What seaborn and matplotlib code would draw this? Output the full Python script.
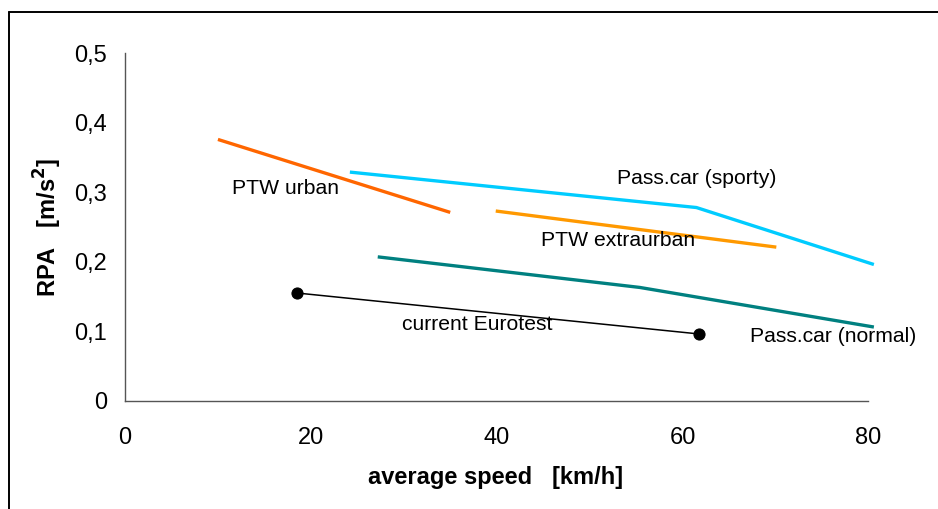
import pandas as pd
import numpy as np
import matplotlib.pyplot as plt
import seaborn as sns
from matplotlib.lines import Line2D

# values
ptw_urban_x = [10.0, 35.0]
ptw_urban_y = [0.376, 0.271]
car_sporty_x = [24.2, 61.5, 80.6]
car_sporty_y = [0.329, 0.278, 0.196]
ptw_extra_x = [39.9, 70.1]
ptw_extra_y = [0.273, 0.221]
car_normal_x = [27.2, 55.4, 80.6]
car_normal_y = [0.207, 0.163, 0.106]
eurotest_x = [18.5, 61.8]
eurotest_y = [0.155, 0.096]

x_ticks = [0, 20, 40, 60, 80]
y_ticks = [0, 0.1, 0.2, 0.3, 0.4, 0.5]
y_ticklabels = ["0", "0,1", "0,2", "0,3", "0,4", "0,5"]

series = {
    "PTW urban": (ptw_urban_x, ptw_urban_y),
    "Pass.car (sporty)": (car_sporty_x, car_sporty_y),
    "PTW extraurban": (ptw_extra_x, ptw_extra_y),
    "Pass.car (normal)": (car_normal_x, car_normal_y),
}
colors = {
    "PTW urban": "#FF6600",
    "Pass.car (sporty)": "#00CCFF",
    "PTW extraurban": "#FF9900",
    "Pass.car (normal)": "#008080",
}

rows = []
for name, (xs, ys) in series.items():
    for x, y in zip(xs, ys):
        rows.append({"series": name, "speed": x, "rpa": y})
df = pd.DataFrame(rows)
df_euro = pd.DataFrame({"speed": eurotest_x, "rpa": eurotest_y})

sns.set_theme(style="white")
plt.rcParams['font.family'] = ['Liberation Sans', 'DejaVu Sans']
plt.rcParams['text.color'] = 'black'
plt.rcParams['axes.labelcolor'] = 'black'

fig = plt.figure(figsize=(9.38, 5.09), dpi=100)
ax = fig.add_axes([0.1333, 0.2128, 0.7924, 0.6825])

sns.lineplot(data=df, x="speed", y="rpa", hue="series", palette=colors,
             sort=False, estimator=None, linewidth=2.4, legend=False, ax=ax)
sns.lineplot(data=df_euro, x="speed", y="rpa", color="black", sort=False,
             estimator=None, linewidth=1.1, marker="o", markersize=8,
             markeredgecolor="black", legend=False, ax=ax)
for ln in ax.lines:
    ln.set_clip_on(False)
    ln.set_solid_capstyle("butt")

ax.set_xlim(0, 80)
ax.set_ylim(0, 0.5)
ax.set_xticks(x_ticks)
ax.set_xticklabels([str(t) for t in x_ticks])
ax.set_yticks(y_ticks)
ax.set_yticklabels(y_ticklabels)
ax.tick_params(axis="both", direction="out", length=5.8, width=1, color="#555555",
               labelsize=17, labelcolor="black", pad=7)
ax.tick_params(axis="x", pad=13.5)
for side in ["top", "right"]:
    ax.spines[side].set_visible(False)
for side in ["left", "bottom"]:
    ax.spines[side].set_color("#555555")
    ax.spines[side].set_linewidth(1)

ax.set_xlabel("average speed   [km/h]", fontsize=17, fontweight="bold", va="center", color="black")
ax.set_ylabel("RPA   [m/s$^\\mathbf{2}$]", fontsize=17, fontweight="bold", va="center", color="black")
ax.xaxis.set_label_coords(0.499, -0.2225)
ax.yaxis.set_label_coords(-0.104, 0.5)

# curve labels
labels = [
    ("PTW urban", 11.5, 0.305),
    ("Pass.car (sporty)", 53.0, 0.320),
    ("PTW extraurban", 44.8, 0.231),
    ("current Eurotest", 29.8, 0.109),
    ("Pass.car (normal)", 67.3, 0.092),
]
for text, x, y in labels:
    ax.text(x, y, text, fontsize=15.2, ha="left", va="center", color="black", clip_on=False)

# chart frame (left and top edges visible)
fig.add_artist(Line2D([8.5 / 938, 8.5 / 938], [0, 1 - 11.5 / 509], transform=fig.transFigure,
                      color="black", linewidth=1.4))
fig.add_artist(Line2D([8.5 / 938, 1], [1 - 11.5 / 509, 1 - 11.5 / 509], transform=fig.transFigure,
                      color="black", linewidth=1.4))

fig.savefig("out.png", dpi=100)
